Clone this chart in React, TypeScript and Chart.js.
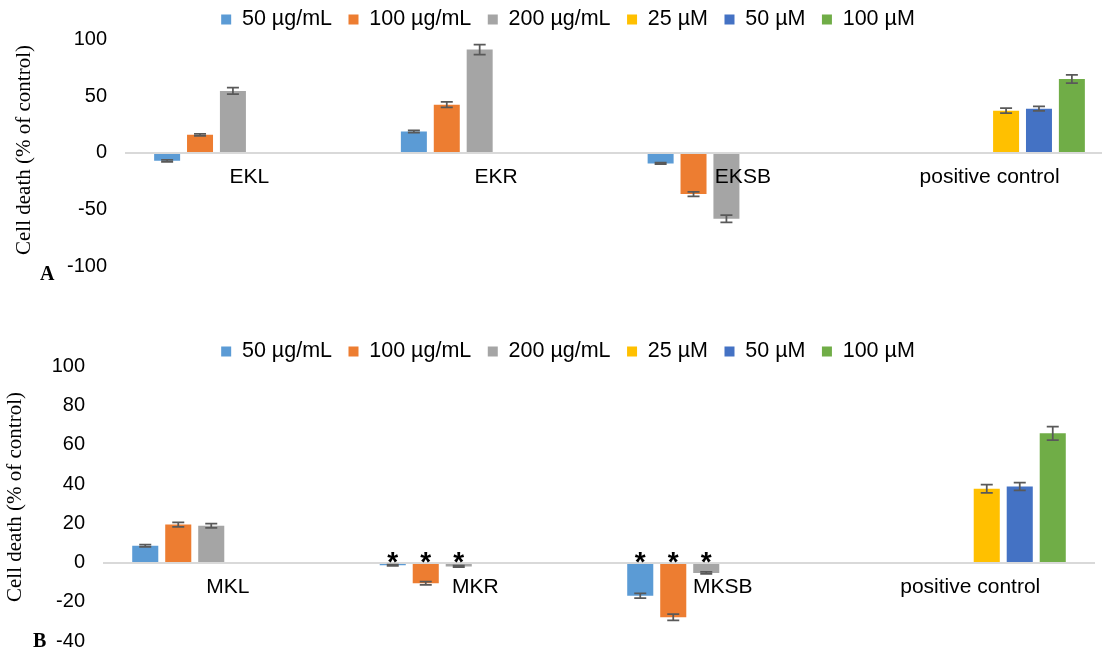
import React, { useEffect, useRef } from 'react';
import { Chart, registerables } from 'chart.js';

Chart.register(...registerables);

// ---------- shared series ----------
const seriesLabels = ['50 µg/mL', '100 µg/mL', '200 µg/mL', '25 µM', '50 µM', '100 µM'];
const seriesColors = ['#5B9BD5', '#ED7D31', '#A5A5A5', '#FFC000', '#4472C4', '#70AD47'];
const yTitle = 'Cell death (% of control)';

// ---------- panel A ----------
const categoriesA = ['EKL', 'EKR', 'EKSB', 'positive control'];
const a50ug = [-7, 19, -9.3, null];
const a100ug = [16, 42.6, -36.4, null];
const a200ug = [54.8, 91.3, -58.3, null];
const a25uM = [null, null, null, 37.3];
const a50uM = [null, null, null, 39.1];
const a100uM = [null, null, null, 65.3];
const a50ugErr = [0.9, 1.0, 0.6, null];
const a100ugErr = [0.9, 2.4, 2.0, null];
const a200ugErr = [2.9, 4.5, 3.2, null];
const a25uMErr = [null, null, null, 2.2];
const a50uMErr = [null, null, null, 2.0];
const a100uMErr = [null, null, null, 3.6];
const yTicksA = [-100, -50, 0, 50, 100];

// ---------- panel B ----------
const categoriesB = ['MKL', 'MKR', 'MKSB', 'positive control'];
const b50ug = [8.5, -1.4, -16.9, null];
const b100ug = [19.3, -10.6, -27.9, null];
const b200ug = [18.7, -2.0, -5.3, null];
const b25uM = [null, null, null, 37.6];
const b50uM = [null, null, null, 38.7];
const b100uM = [null, null, null, 65.8];
const b50ugErr = [0.6, 0.3, 1.2, null];
const b100ugErr = [1.2, 0.8, 1.6, null];
const b200ugErr = [1.1, 0.4, 0.5, null];
const b25uMErr = [null, null, null, 2.1];
const b50uMErr = [null, null, null, 2.0];
const b100uMErr = [null, null, null, 3.4];
const b50ugStar = [false, true, true, false];
const b100ugStar = [false, true, true, false];
const b200ugStar = [false, true, true, false];
const yTicksB = [-40, -20, 0, 20, 40, 60, 80, 100];

const noStars = [false, false, false, false];

const SANS = '"Liberation Sans", Arial, sans-serif';
const SERIF = '"Liberation Serif", "Times New Roman", serif';

type PanelCfg = {
  categories: string[];
  values: (number | null)[][];
  errors: (number | null)[][];
  stars: boolean[][];
  ticks: number[];
  letter: string;
  width: number;
  height: number;
  top: number;
  padding: { left: number; right: number; top: number; bottom: number };
  yWidth: number;
  legendMaxHeight: number;
  titleX: number;
  titleY: number;
  letterX: number;
  letterY: number;
};

const panelA: PanelCfg = {
  categories: categoriesA,
  values: [a50ug, a100ug, a200ug, a25uM, a50uM, a100uM],
  errors: [a50ugErr, a100ugErr, a200ugErr, a25uMErr, a50uMErr, a100uMErr],
  stars: [noStars, noStars, noStars, noStars, noStars, noStars],
  ticks: yTicksA,
  letter: 'A',
  width: 1120,
  height: 300,
  top: 0,
  padding: { left: 23, right: 7, top: -7.75, bottom: 34 },
  yWidth: 103,
  legendMaxHeight: 47.5,
  titleX: 24.5,
  titleY: 150,
  letterX: 40,
  letterY: 280,
};

const panelB: PanelCfg = {
  categories: categoriesB,
  values: [b50ug, b100ug, b200ug, b25uM, b50uM, b100uM],
  errors: [b50ugErr, b100ugErr, b200ugErr, b25uMErr, b50uMErr, b100uMErr],
  stars: [b50ugStar, b100ugStar, b200ugStar, noStars, noStars, noStars],
  ticks: yTicksB,
  letter: 'B',
  width: 1102,
  height: 340,
  top: 332,
  padding: { left: 42, right: 8, top: -7.75, bottom: 12 },
  yWidth: 62,
  legendMaxHeight: 42,
  titleX: 15.8,
  titleY: 165,
  letterX: 33,
  letterY: 315,
};

const overlayPlugin = {
  id: 'overlay',
  afterDraw(chart: any, _args: any, opts: any) {
    const { ctx } = chart;
    const yScale = chart.scales.y;
    const zero = yScale.getPixelForValue(0);
    ctx.save();
    chart.data.datasets.forEach((ds: any, di: number) => {
      const meta = chart.getDatasetMeta(di);
      const errs = opts.errors[di];
      const stars = opts.stars[di];
      meta.data.forEach((el: any, i: number) => {
        const v = ds.data[i];
        if (v === null || v === undefined) return;
        const e = errs[i];
        const x = el.x;
        if (e) {
          const y1 = yScale.getPixelForValue(v + e);
          const y2 = yScale.getPixelForValue(v - e);
          ctx.strokeStyle = '#595959';
          ctx.lineWidth = 1.75;
          ctx.beginPath();
          ctx.moveTo(x, y1);
          ctx.lineTo(x, y2);
          ctx.moveTo(x - 6, y1);
          ctx.lineTo(x + 6, y1);
          ctx.moveTo(x - 6, y2);
          ctx.lineTo(x + 6, y2);
          ctx.stroke();
        }
        if (stars && stars[i]) {
          ctx.font = 'bold 28px ' + SANS;
          ctx.fillStyle = '#000';
          ctx.textAlign = 'center';
          ctx.textBaseline = 'alphabetic';
          const m = ctx.measureText('*');
          const asc = m.actualBoundingBoxAscent || 20;
          const desc = m.actualBoundingBoxDescent || -10;
          const center = zero - 5.5;
          ctx.fillText('*', x, center + (asc - desc) / 2);
        }
      });
    });
    // y-axis title
    ctx.save();
    ctx.translate(opts.titleX, opts.titleY);
    ctx.rotate(-Math.PI / 2);
    ctx.font = '21px ' + SERIF;
    ctx.fillStyle = '#000';
    ctx.textAlign = 'center';
    ctx.textBaseline = 'middle';
    ctx.fillText(yTitle, 0, 0);
    ctx.restore();
    // panel letter
    ctx.font = 'bold 20px ' + SERIF;
    ctx.fillStyle = '#000';
    ctx.textAlign = 'left';
    ctx.textBaseline = 'alphabetic';
    ctx.fillText(opts.letter, opts.letterX, opts.letterY);
    ctx.restore();
  },
};

function Panel({ cfg }: { cfg: PanelCfg }) {
  const ref = useRef<HTMLCanvasElement | null>(null);
  useEffect(() => {
    if (!ref.current) return;
    const ticks = cfg.ticks;
    const chart = new Chart(ref.current, {
      type: 'bar',
      data: {
        labels: cfg.categories,
        datasets: cfg.values.map((vals, i) => ({
          label: seriesLabels[i],
          data: vals,
          backgroundColor: seriesColors[i],
          borderWidth: 0,
          barPercentage: 0.79,
          categoryPercentage: 0.8,
        })),
      },
      options: {
        responsive: false,
        animation: false,
        events: [],
        layout: { padding: cfg.padding },
        scales: {
          x: {
            position: { y: 0 },
            grid: { display: false, drawTicks: false },
            border: { display: true, color: '#D9D9D9', width: 2, z: 1 },
            ticks: {
              z: 1,
              color: '#000',
              font: { family: SANS, size: 21 },
              padding: 12,
              maxRotation: 0,
              autoSkip: false,
            },
          },
          y: {
            min: ticks[0],
            max: ticks[ticks.length - 1],
            grid: { display: false, drawTicks: false },
            border: { display: false },
            ticks: {
              stepSize: ticks[1] - ticks[0],
              color: '#000',
              font: { family: SANS, size: 20 },
              padding: 19,
            },
            afterFit: (s: any) => {
              s.width = cfg.yWidth;
            },
          },
        },
        plugins: {
          legend: {
            position: 'top',
            maxHeight: cfg.legendMaxHeight,
            labels: {
              boxWidth: 10,
              boxHeight: 10,
              padding: 16.5,
              color: '#000',
              font: { family: SANS, size: 21.5 },
            },
          },
          tooltip: { enabled: false },
          overlay: {
            errors: cfg.errors,
            stars: cfg.stars,
            titleX: cfg.titleX,
            titleY: cfg.titleY,
            letter: cfg.letter,
            letterX: cfg.letterX,
            letterY: cfg.letterY,
          },
        } as any,
      } as any,
      plugins: [overlayPlugin],
    });
    return () => chart.destroy();
  }, [cfg]);
  return (
    <canvas
      ref={ref}
      width={cfg.width}
      height={cfg.height}
      style={{ position: 'absolute', left: 0, top: cfg.top, width: cfg.width, height: cfg.height, display: 'block' }}
    />
  );
}

export default function App() {
  return (
    <div
      style={{
        position: 'absolute',
        left: 0,
        top: 0,
        width: 1102,
        height: 652,
        overflow: 'hidden',
        background: '#fff',
      }}
    >
      <Panel cfg={panelA} />
      <Panel cfg={panelB} />
    </div>
  );
}
